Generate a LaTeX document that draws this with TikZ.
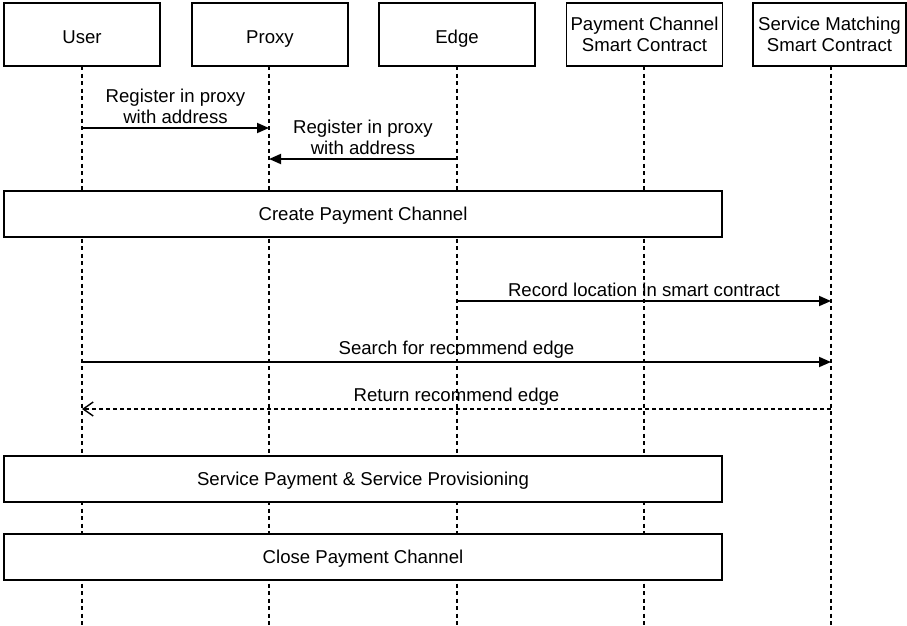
\documentclass[tikz,border=0pt]{standalone}
\usepackage{fontspec}
\setmainfont{Liberation Sans}
\usetikzlibrary{arrows.meta,positioning}

\begin{document}
\begin{tikzpicture}[x=1pt, y=-1pt,
    head/.style={draw, line width=1.8pt, fill=white, minimum width=156pt, minimum height=63pt, align=center, inner sep=0pt, text height=20pt, text depth=2pt, font=\fontsize{18.6}{21}\selectfont},
    twoline/.style={text height=39pt, text depth=4pt},
    phase/.style={draw, line width=1.8pt, fill=white, minimum width=718pt, minimum height=46pt, inner sep=0pt, text height=16pt, text depth=3pt, font=\fontsize{18.6}{21}\selectfont},
    life/.style={dash pattern=on 4pt off 3.5pt, line width=1.2pt},
    msg/.style={line width=1.8pt, -{Triangle[length=12pt,width=10pt]}},
    reply/.style={line width=1.4pt, dash pattern=on 4pt off 3pt, -{Straight Barb[length=10pt,width=14pt,line width=1.4pt]}},
    lbl/.style={above, inner sep=3pt, align=center, font=\fontsize{18.6}{21}\selectfont}]
    \useasboundingbox (0,0) rectangle (907,626);

    % lifelines
    \foreach \x/\n in {82/userline, 269/proxyline, 457/edgeline, 644/pcline, 831/smline}{
        \coordinate (\n) at (\x,66);
        \draw[life] (\n) -- (\x,626);
    }

    % participants
    \node[head] (user) at (82,34.5) {User};
    \node[head] (proxy) at (270,34.5) {Proxy};
    \node[head] (edge) at (457,34.5) {Edge};
    \node[head, twoline] (pcsc) at (644.5,34.5) {Payment Channel\\Smart Contract};
    \node[head, twoline, minimum width=153pt] (smsc) at (829.5,34.5) {Service Matching\\Smart Contract};

    % messages
    \draw[msg] (userline |- 0,128) -- (proxyline |- 0,128) node[lbl, midway] {Register in proxy\\with address};
    \draw[msg] (edgeline |- 0,159) -- (proxyline |- 0,159) node[lbl, midway] {Register in proxy\\with address};

    \node[phase] (create) at (363,214) {Create Payment Channel};

    \draw[msg] (edgeline |- 0,301) -- (smline |- 0,301) node[lbl, midway] {Record location in smart contract};
    \draw[msg] (userline |- 0,362) -- (smline |- 0,362) node[lbl, midway] {Search for recommend edge};
    \draw[reply] (smline |- 0,409) -- (userline |- 0,409) node[lbl, midway] {Return recommend edge};

    \node[phase] (serve) at (363,479) {Service Payment \& Service Provisioning};
    \node[phase] (close) at (363,557) {Close Payment Channel};
\end{tikzpicture}
\end{document}
